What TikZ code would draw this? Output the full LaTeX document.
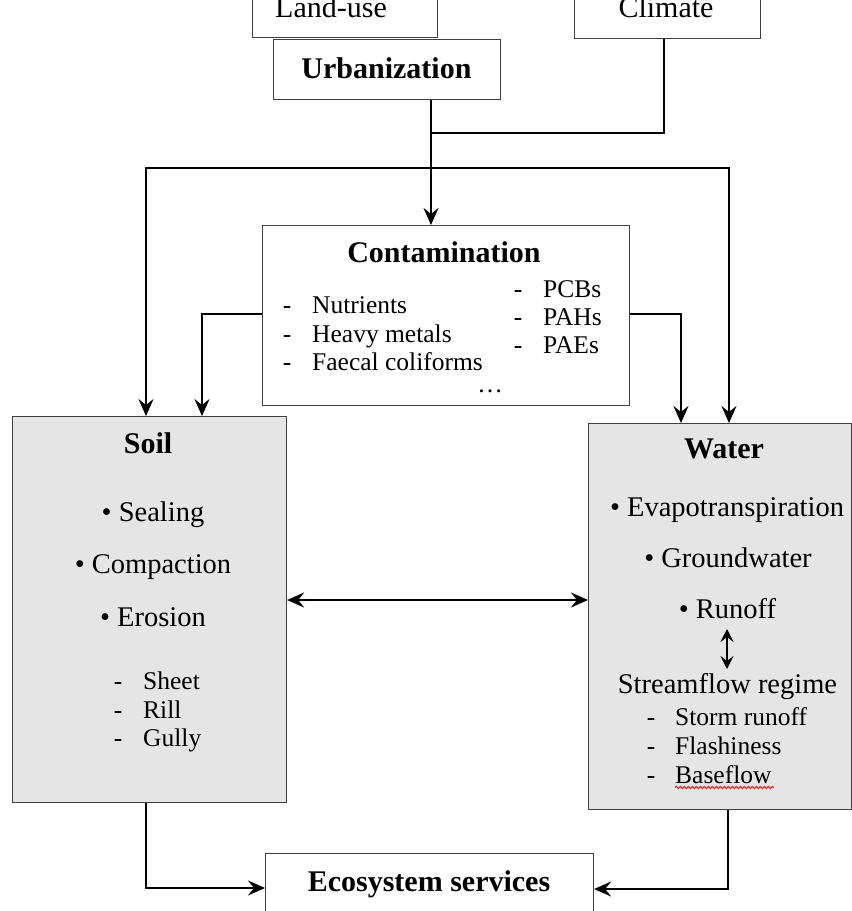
\documentclass[tikz,border=0pt]{standalone}
\usepackage{fontspec}
\setmainfont{Liberation Serif}
\usetikzlibrary{arrows.meta,decorations.pathmorphing}
\begin{document}
\begin{tikzpicture}[x=1pt,y=-1pt,
  box/.style={draw=black!75, line width=1.1pt, inner sep=0pt, anchor=north west},
  greybox/.style={box, fill=black!10},
  ttl/.style={font=\fontsize{30}{30}\selectfont\bfseries, anchor=base, inner sep=0pt},
  top/.style={font=\fontsize{30}{30}\selectfont, anchor=base, inner sep=0pt},
  bod/.style={font=\fontsize{28.5}{28.5}\selectfont, anchor=base, inner sep=0pt},
  sub/.style={font=\fontsize{25.5}{25.5}\selectfont, anchor=base west, inner sep=0pt},
  dsh/.style={font=\fontsize{25.5}{25.5}\selectfont, anchor=base, inner sep=0pt},
  wire/.style={line width=2.5pt},
  conn/.style={wire, -{Stealth[length=17pt,width=15pt,inset=6pt]}},
  dconn/.style={wire, {Stealth[length=17pt,width=15pt,inset=6pt]}-{Stealth[length=17pt,width=15pt,inset=6pt]}},
  sconn/.style={line width=2.3pt, {Stealth[length=13pt,width=13pt,inset=5pt]}-{Stealth[length=13pt,width=13pt,inset=5pt]}}
]
\useasboundingbox (0,0) rectangle (852,911);

% boxes
\node[box, minimum width=185pt, minimum height=45pt] (land) at (252,-8) {};
\node[box, minimum width=186pt, minimum height=46pt] (clim) at (574,-8) {};
\node[box, fill=white, minimum width=227pt, minimum height=60pt] (urb) at (273,39) {};
\node[box, minimum width=367pt, minimum height=180pt] (cont) at (262,225) {};
\node[greybox, minimum width=274pt, minimum height=386pt] (soil) at (12,416) {};
\node[greybox, minimum width=263pt, minimum height=386pt] (water) at (588,423) {};
\node[box, minimum width=328pt, minimum height=70pt] (eco) at (265,853) {};

% top texts
\node[top] (tland) at (331,17) {Land-use};
\node[top] (tclim) at (666,17) {Climate};
\node[ttl] (turb) at (386.5,78) {Urbanization};

% contamination
\node[ttl] (tcont) at (444,262) {Contamination};
\node[dsh] (cd1) at (287,313) {-};
\node[sub] (ct1) at (312,313) {Nutrients};
\node[dsh] (cd2) at (287,342) {-};
\node[sub] (ct2) at (312,342) {Heavy metals};
\node[dsh] (cd3) at (287,370) {-};
\node[sub] (ct3) at (312,370) {Faecal coliforms};
\node[dsh] (cd4) at (518,297) {-};
\node[sub] (ct4) at (543,297) {PCBs};
\node[dsh] (cd5) at (518,325) {-};
\node[sub] (ct5) at (543,325) {PAHs};
\node[dsh] (cd6) at (518,353) {-};
\node[sub] (ct6) at (543,353) {PAEs};
\node[dsh] (cdots) at (490,392) {\dots};

% soil
\node[ttl] (tsoil) at (148,453) {Soil};
\node[bod] (s1) at (153,521) {\textbullet\ Sealing};
\node[bod] (s2) at (153,573) {\textbullet\ Compaction};
\node[bod] (s3) at (153,626) {\textbullet\ Erosion};
\node[dsh] (sd1) at (118,689) {-};
\node[sub] (st1) at (143,689) {Sheet};
\node[dsh] (sd2) at (118,718) {-};
\node[sub] (st2) at (143,718) {Rill};
\node[dsh] (sd3) at (118,746) {-};
\node[sub] (st3) at (143,746) {Gully};

% water
\node[ttl] (twat) at (724,458) {Water};
\node[bod] (w1) at (727,516) {\textbullet\ Evapotranspiration};
\node[bod] (w2) at (728,567) {\textbullet\ Groundwater};
\node[bod] (w3) at (727.5,618) {\textbullet\ Runoff};
\node[bod] (w4) at (727.5,693) {Streamflow regime};
\node[dsh] (wd1) at (651,725) {-};
\node[sub] (wt1) at (675,725) {Storm runoff};
\node[dsh] (wd2) at (651,754) {-};
\node[sub] (wt2) at (675,754) {Flashiness};
\node[dsh] (wd3) at (651,783) {-};
\node[sub] (wt3) at (675,783) {Baseflow};
\draw[red, line width=0.9pt, decorate, decoration={snake, amplitude=1.1pt, segment length=4pt}]
  (wt3.base west) ++(0,4.5) coordinate (u1) -- ([xshift=2pt]wt3.base east |- u1);

% eco
\node[ttl] (teco) at (429,891) {Ecosystem services};

% connector junctions
\coordinate (ju) at (431,133);
\coordinate (jc) at (664,133);
\coordinate (jh) at (431,168);
\coordinate (hl) at (146,168);
\coordinate (hr) at (729,168);
\coordinate (cl) at (202,314);
\coordinate (cr) at (681,314);
\coordinate (mid) at (437,600);
\coordinate (r1) at (727,629);
\coordinate (r2) at (727,669);
\coordinate (bl) at (146,888);
\coordinate (br) at (728,889);

% connectors
\draw[conn] (ju |- urb.south) -- (ju |- cont.north);
\draw[wire] (jc |- clim.south) -- (jc) -- (ju);
\draw[conn] (jh) -- (hl) -- (hl |- soil.north);
\draw[conn] (jh) -- (hr) -- (hr |- water.north);
\draw[conn] (cont.west |- cl) -- (cl) -- (cl |- soil.north);
\draw[conn] (cont.east |- cr) -- (cr) -- (cr |- water.north);
\draw[dconn] (soil.east |- mid) -- (water.west |- mid);
\draw[sconn] (r1) -- (r2);
\draw[conn] (bl |- soil.south) -- (bl) -- (eco.west |- bl);
\draw[conn] (br |- water.south) -- (br) -- (eco.east |- br);
\end{tikzpicture}
\end{document}
